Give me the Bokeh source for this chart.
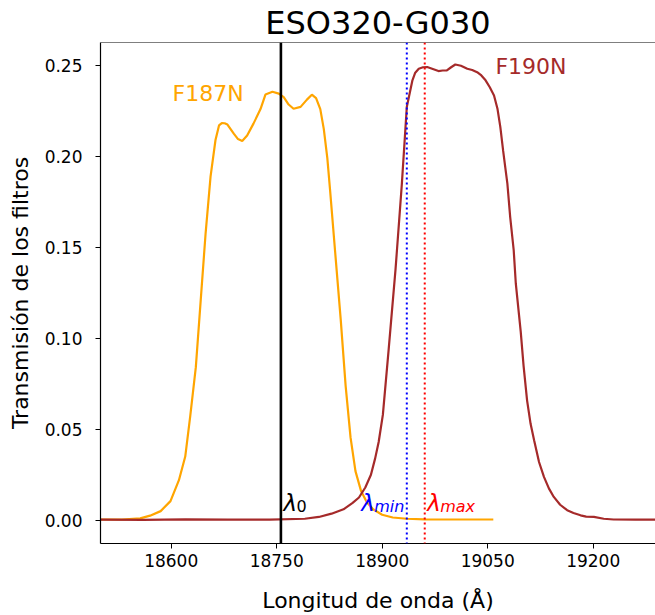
from bokeh.plotting import figure
from bokeh.models import Range1d, FixedTicker, NumeralTickFormatter, Span, Label
from bokeh.embed import file_html
from bokeh.resources import INLINE

# ---- data ----
f187n_wave = [18500, 18530, 18556, 18570, 18585, 18599, 18611, 18620, 18627, 18635,
              18642, 18649, 18656, 18663, 18668, 18672, 18676, 18680, 18689, 18695,
              18701, 18708, 18717, 18727, 18734, 18744, 18753, 18760, 18767, 18774,
              18784, 18793, 18800, 18806, 18812, 18817, 18822, 18826, 18833, 18841,
              18848, 18855, 18862, 18870, 18878, 18887, 18900, 18915, 18935, 18960,
              19000, 19030, 19058]
f187n_trans = [0.0004, 0.0004, 0.0010, 0.0025, 0.0050, 0.0105, 0.0220, 0.0350, 0.0570, 0.0840,
               0.1210, 0.1580, 0.1890, 0.2090, 0.2170, 0.2183, 0.2182, 0.2175, 0.2125, 0.2095,
               0.2085, 0.2115, 0.2180, 0.2260, 0.2340, 0.2355, 0.2345, 0.2326, 0.2285, 0.2262,
               0.2272, 0.2312, 0.2339, 0.2320, 0.2260, 0.2150, 0.1990, 0.1810, 0.1480, 0.1105,
               0.0740, 0.0455, 0.0270, 0.0160, 0.0100, 0.0060, 0.0030, 0.0015, 0.0008, 0.0005,
               0.0004, 0.0004, 0.0004]

f190n_wave = [18500, 18560, 18620, 18680, 18740, 18790, 18810, 18828, 18845, 18858,
              18867, 18876, 18884, 18890, 18895, 18901, 18909, 18919, 18928, 18935,
              18943, 18947, 18952, 18958, 18964, 18972, 18980, 18986, 18992, 18998,
              19004, 19012, 19021, 19028, 19035, 19041, 19047, 19053, 19059, 19064,
              19068, 19072, 19075, 19078, 19082, 19087, 19090, 19097, 19101, 19106,
              19111, 19116, 19123, 19130, 19137, 19144, 19153, 19163, 19172, 19182,
              19190, 19201, 19215, 19229, 19260, 19297]
f190n_trans = [0.0003, 0.0002, 0.0005, 0.0003, 0.0003, 0.0008, 0.0018, 0.0036, 0.0060, 0.0095,
               0.0125, 0.0180, 0.0250, 0.0340, 0.0430, 0.0580, 0.0930, 0.1380, 0.1850, 0.2271,
               0.2418, 0.2460, 0.2482, 0.2490, 0.2491, 0.2480, 0.2469, 0.2472, 0.2473, 0.2490,
               0.2505, 0.2498, 0.2482, 0.2475, 0.2463, 0.2445, 0.2418, 0.2380, 0.2335, 0.2260,
               0.2161, 0.2030, 0.1940, 0.1850, 0.1666, 0.1484, 0.1300, 0.1035, 0.0850, 0.0659,
               0.0530, 0.0440, 0.0320, 0.0238, 0.0175, 0.0128, 0.0085, 0.0055, 0.0040, 0.0027,
               0.0020, 0.0018, 0.0008, 0.0004, 0.0003, 0.0003]

lambda_0 = 18756
lambda_min = 18935
lambda_max = 18960.5

x_ticks = [18600, 18750, 18900, 19050, 19200]
y_ticks = [0.00, 0.05, 0.10, 0.15, 0.20, 0.25]

title_text = "ESO320-G030"
x_label = "Longitud de onda (Å)"
y_label = "Transmisión de los filtros"

FONT = "DejaVu Sans"
X0, X1 = 18499.5, 19288.6
Y0, Y1 = -0.0128, 0.2626

p = figure(width=655, height=615, output_backend="svg", toolbar_location=None,
           x_range=Range1d(X0, X1), y_range=Range1d(Y0, Y1),
           min_border_left=100, min_border_right=0, min_border_top=42,
           min_border_bottom=72, title=title_text)
p.title.text_font = FONT
p.title.text_font_size = "32px"
p.title.text_font_style = "normal"
p.title.text_color = "black"
p.title.align = "center"
p.title.standoff = 2
p.title.offset = 2

p.outline_line_color = None
p.background_fill_color = "white"
p.border_fill_color = "white"
p.grid.visible = False

for ax in (p.xaxis[0], p.yaxis[0]):
    ax.axis_line_color = "black"
    ax.axis_line_width = 1.2
    ax.major_tick_out = 5
    ax.major_tick_in = 0
    ax.major_tick_line_color = "black"
    ax.minor_tick_line_color = None
    ax.major_label_text_font = FONT
    ax.major_label_text_font_size = "17px"
    ax.major_label_text_color = "black"
    ax.axis_label_text_font = FONT
    ax.axis_label_text_font_size = "22px"
    ax.axis_label_text_font_style = "normal"
    ax.axis_label_text_color = "black"

p.xaxis[0].ticker = FixedTicker(ticks=x_ticks)
p.yaxis[0].ticker = FixedTicker(ticks=y_ticks)
p.yaxis[0].formatter = NumeralTickFormatter(format="0.00")
p.xaxis[0].axis_label = x_label
p.yaxis[0].axis_label = y_label
p.xaxis[0].major_label_standoff = 5
p.xaxis[0].axis_label_standoff = 18
p.yaxis[0].major_label_standoff = 13
p.yaxis[0].axis_label_standoff = 9

# top spine
p.add_layout(Span(location=Y1, dimension="width", line_color="black", line_width=1.2))

# curves
p.line(f187n_wave, f187n_trans, line_color="orange", line_width=2.2)
p.line(f190n_wave, f190n_trans, line_color="brown", line_width=2.2)

# vertical markers
p.add_layout(Span(location=lambda_0, dimension="height", line_color="black", line_width=2.6))
p.add_layout(Span(location=lambda_min, dimension="height", line_color="blue",
                  line_width=2, line_dash="2 3"))
p.add_layout(Span(location=lambda_max, dimension="height", line_color="red",
                  line_width=2, line_dash="2 3"))

# filter names
p.add_layout(Label(x=18602, y=0.2346, text="F187N", text_color="orange",
                   text_font=FONT, text_font_size="22px",
                   text_baseline="middle", text_align="left"))
p.add_layout(Label(x=19061, y=0.2495, text="F190N", text_color="brown",
                   text_font=FONT, text_font_size="22px",
                   text_baseline="middle", text_align="left"))

# lambda labels: symbol + subscript
def lam(x, sub, color, sub_style):
    p.add_layout(Label(x=x, y=0.0093, text="λ", text_color=color, text_font=FONT,
                       text_font_size="23px", text_font_style="italic",
                       text_baseline="alphabetic", text_align="left"))
    p.add_layout(Label(x=x, y=0.0093, x_offset=13, y_offset=-3, text=sub,
                       text_color=color, text_font=FONT, text_font_size="16px",
                       text_font_style=sub_style,
                       text_baseline="alphabetic", text_align="left"))

lam(18759.6, "0", "black", "normal")
lam(18870.1, "min", "blue", "italic")
lam(18964.0, "max", "red", "italic")

open("out.html", "w").write(file_html(p, INLINE))
